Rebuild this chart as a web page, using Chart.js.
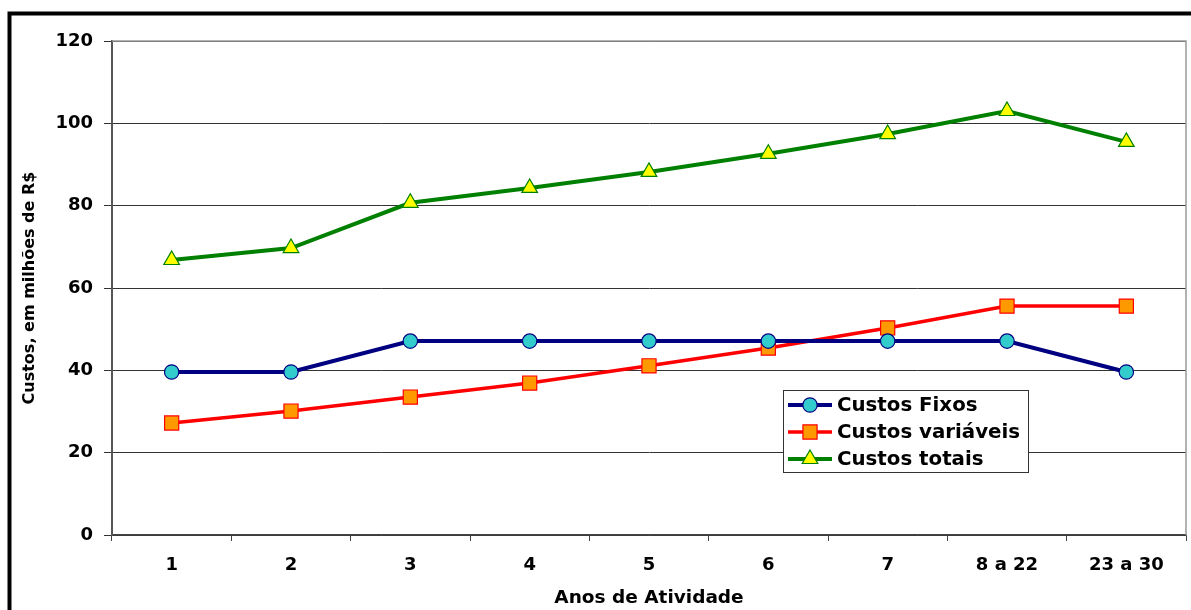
<!DOCTYPE html>
<html>
<head>
<meta charset="utf-8">
<script src="https://cdn.jsdelivr.net/npm/chart.js@4/dist/chart.umd.min.js"></script>
<style>
  html, body { margin: 0; padding: 0; background: #fff; }
  #wrap { position: relative; width: 1191px; height: 610px; }
  canvas { display: block; }
</style>
</head>
<body>
<div id="wrap"><canvas id="c" width="1191" height="610"></canvas></div>
<script>
const categories = ['1', '2', '3', '4', '5', '6', '7', '8 a 22', '23 a 30'];
const custosFixos = [39.6, 39.6, 47.1, 47.1, 47.1, 47.1, 47.1, 47.1, 39.6];
const custosVariaveis = [27.2, 30.1, 33.5, 36.9, 41.1, 45.4, 50.3, 55.6, 55.6];
const custosTotais = [66.8, 69.7, 80.7, 84.3, 88.2, 92.6, 97.4, 103.0, 95.5];
const seriesNames = ['Custos Fixos', 'Custos variáveis', 'Custos totais'];
const yTicks = [0, 20, 40, 60, 80, 100, 120];
const xTitle = 'Anos de Atividade';
const yTitle = 'Custos, em milhões de R$';

const FONT = '"DejaVu Sans", Verdana, sans-serif';

const frameAndBorder = {
  id: 'frameAndBorder',
  beforeDraw(chart) {
    const ctx = chart.ctx;
    ctx.save();
    ctx.fillStyle = '#fff';
    ctx.fillRect(0, 0, chart.width, chart.height);
    ctx.strokeStyle = '#000';
    ctx.lineWidth = 4;
    ctx.beginPath();
    ctx.moveTo(9.5, 640);
    ctx.lineTo(9.5, 13.5);
    ctx.lineTo(1200, 13.5);
    ctx.stroke();
    ctx.restore();
  },
  beforeDatasetsDraw(chart) {
    const a = chart.chartArea;
    const ctx = chart.ctx;
    ctx.save();
    ctx.strokeStyle = '#999';
    ctx.lineWidth = 1.5;
    ctx.beginPath();
    ctx.moveTo(a.left, a.top);
    ctx.lineTo(a.right, a.top);
    ctx.lineTo(a.right, a.bottom);
    ctx.stroke();
    ctx.restore();
  }
};

const legendBox = {
  id: 'legendBox',
  afterDatasetsDraw(chart) {
    const ctx = chart.ctx;
    const x0 = 783, y0 = 390, w = 245, h = 82;
    ctx.save();
    ctx.fillStyle = '#fff';
    ctx.fillRect(x0, y0, w, h);
    ctx.strokeStyle = '#333';
    ctx.lineWidth = 1;
    ctx.strokeRect(x0 + 0.5, y0 + 0.5, w, h);
    const rows = [405, 432, 459];
    chart.data.datasets.forEach((ds, i) => {
      const y = rows[i];
      ctx.strokeStyle = ds.borderColor;
      ctx.lineWidth = ds.borderWidth;
      ctx.beginPath();
      ctx.moveTo(788, y);
      ctx.lineTo(832, y);
      ctx.stroke();
      const opts = {
        pointStyle: ds.pointStyle,
        radius: ds.pointRadius,
        borderWidth: ds.pointBorderWidth,
        rotation: 0
      };
      ctx.fillStyle = ds.pointBackgroundColor;
      ctx.strokeStyle = ds.pointBorderColor;
      ctx.lineWidth = ds.pointBorderWidth;
      Chart.helpers.drawPoint(ctx, opts, 810, y);
      ctx.fillStyle = '#000';
      ctx.font = 'bold 19.8px ' + FONT;
      ctx.textBaseline = 'middle';
      ctx.textAlign = 'left';
      ctx.fillText(ds.label, 837, y + 1);
    });
    ctx.restore();
  }
};

new Chart(document.getElementById('c'), {
  type: 'line',
  data: {
    labels: categories,
    datasets: [
      {
        label: seriesNames[0], data: custosFixos,
        borderColor: '#000080', borderWidth: 4,
        pointStyle: 'circle', pointRadius: 7.2, pointBorderWidth: 1.2,
        pointBackgroundColor: '#33CCCC', pointBorderColor: '#000080'
      },
      {
        label: seriesNames[1], data: custosVariaveis,
        borderColor: '#FF0000', borderWidth: 3.5,
        pointStyle: 'rect', pointRadius: 10, pointBorderWidth: 1.2,
        pointBackgroundColor: '#FF9900', pointBorderColor: '#FF0000'
      },
      {
        label: seriesNames[2], data: custosTotais,
        borderColor: '#008000', borderWidth: 4,
        pointStyle: 'triangle', pointRadius: 9, pointBorderWidth: 1.2,
        pointBackgroundColor: '#FFFF00', pointBorderColor: '#008000'
      }
    ]
  },
  options: {
    responsive: false,
    animation: false,
    devicePixelRatio: 1,
    layout: { autoPadding: false, padding: { left: 0, top: 41, right: 5, bottom: 0 } },
    plugins: {
      legend: { display: false },
      tooltip: { enabled: false },
      title: { display: false }
    },
    elements: { line: { tension: 0 } },
    scales: {
      x: {
        type: 'category',
        offset: true,
        afterFit(scale) { scale.height = 75; scale.paddingLeft = 0; scale.paddingRight = 0; },
        grid: {
          offset: true,
          drawOnChartArea: false,
          drawTicks: true,
          tickLength: 6,
          color: '#444',
          lineWidth: 1
        },
        border: { display: true, color: '#444', width: 1.5 },
        ticks: {
          color: '#000',
          font: { family: FONT, size: 18, weight: 'bold' },
          padding: 14,
          maxRotation: 0,
          autoSkip: false
        },
        title: {
          display: true,
          text: xTitle,
          color: '#000',
          font: { family: FONT, size: 18.5, weight: 'bold' },
          padding: { top: 0, bottom: 1 }
        }
      },
      y: {
        min: 0, max: 120,
        afterFit(scale) { scale.width = 112; scale.paddingTop = 0; scale.paddingBottom = 0; },
        afterBuildTicks(scale) { scale.ticks = yTicks.map(v => ({ value: v })); },
        grid: {
          color: '#333',
          lineWidth: 1,
          drawTicks: true,
          tickLength: 8
        },
        border: { display: true, color: '#555', width: 2 },
        ticks: {
          color: '#000',
          font: { family: FONT, size: 18, weight: 'bold' },
          padding: 11
        },
        title: {
          display: true,
          text: yTitle,
          color: '#000',
          font: { family: FONT, size: 16, weight: 'bold' },
          padding: { top: 20, bottom: 0 }
        }
      }
    }
  },
  plugins: [frameAndBorder, legendBox]
});
</script>
</body>
</html>
